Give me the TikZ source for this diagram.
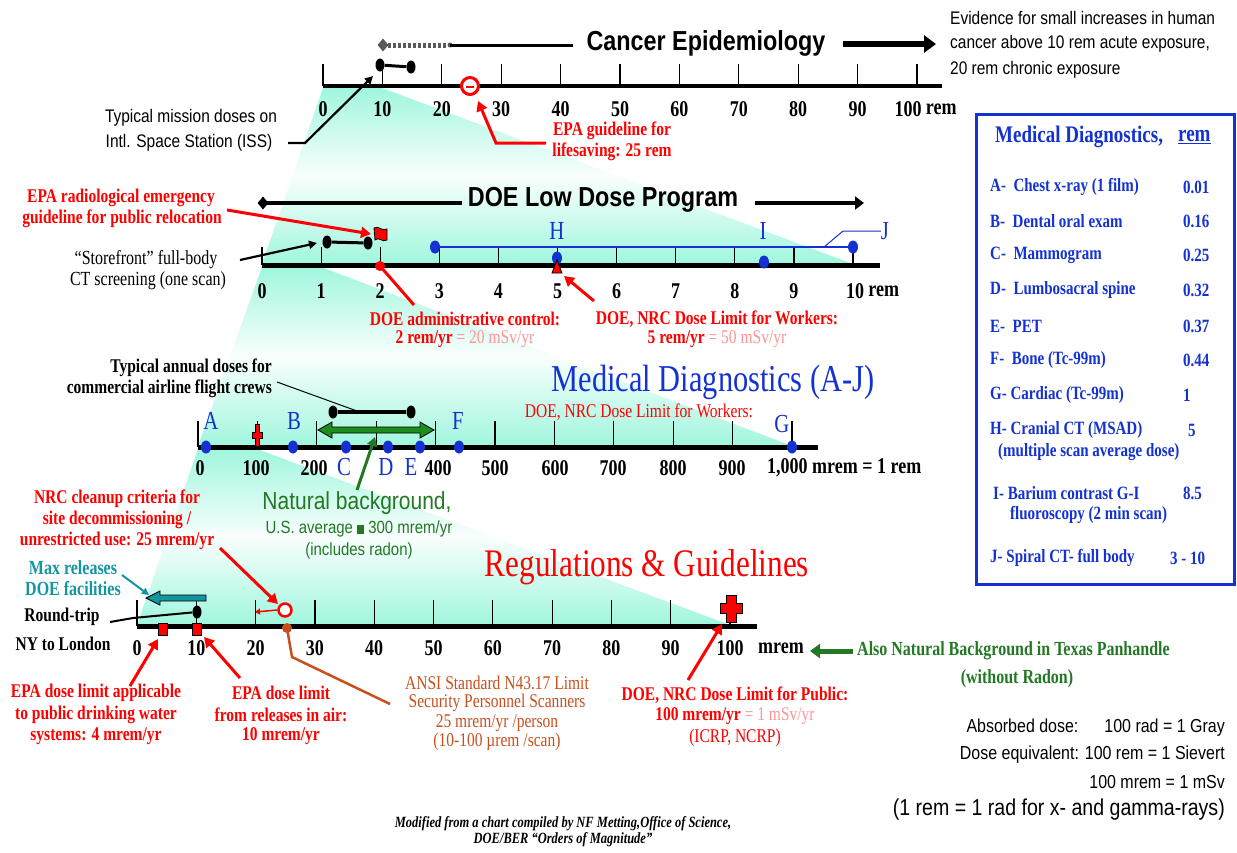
\documentclass[tikz,border=0pt]{standalone}
\usepackage{fontspec}
\setmainfont{Liberation Serif}[FakeStretch=0.8]
\setsansfont{Liberation Sans}[FakeStretch=0.85]
\usetikzlibrary{arrows.meta,shapes.geometric}
\definecolor{cy}{RGB}{160,246,222}
\definecolor{bl}{RGB}{20,50,210}
\definecolor{rd}{RGB}{255,0,0}
\definecolor{pk}{RGB}{255,150,150}
\definecolor{gn}{RGB}{35,120,35}
\definecolor{tl}{RGB}{20,150,160}
\definecolor{br}{RGB}{200,80,30}
\definecolor{gr}{RGB}{90,90,90}
\tikzset{
 axline/.style={line width=4.5pt},
 tk/.style={line width=1.2pt},
 axlab/.style={inner sep=0pt, font=\fontsize{22.5}{24}\selectfont\bfseries},
 sann/.style={inner sep=0pt, font=\fontsize{18.2}{20}\selectfont\sffamily},
 rann/.style={inner sep=0pt, text=rd, font=\fontsize{19.4}{21}\selectfont\bfseries},
 kann/.style={inner sep=0pt, font=\fontsize{19.4}{21}\selectfont\bfseries},
 sfann/.style={inner sep=0pt, font=\fontsize{20}{22}\selectfont},
 brann/.style={inner sep=0pt, text=br, font=\fontsize{19.4}{21}\selectfont},
 gnann/.style={inner sep=0pt, text=gn, font=\fontsize{20}{22}\selectfont\bfseries},
 tlann/.style={inner sep=0pt, text=tl, font=\fontsize{20}{22}\selectfont\bfseries},
 bigtitle/.style={inner sep=0pt, font=\fontsize{27.5}{30}\selectfont\sffamily\bfseries},
 serift/.style={inner sep=0pt, font=\fontsize{39}{42}\selectfont},
 bllet/.style={inner sep=0pt, text=bl, font=\fontsize{26}{28}\selectfont},
 boxrow/.style={inner sep=0pt, anchor=west, text=bl, font=\fontsize{18.75}{20}\selectfont\bfseries},
 bdot/.style={ellipse, fill=black, minimum width=9pt, minimum height=13pt, inner sep=0pt},
 bldot/.style={ellipse, fill=bl, minimum width=10pt, minimum height=13pt, inner sep=0pt},
 rsq/.style={rectangle, fill=rd, draw=black, line width=0.7pt, minimum width=9pt, minimum height=12pt, inner sep=0pt},
 redarr/.style={draw=rd, line width=3pt, -{Triangle[length=10pt,width=11pt]}},
 blkarr/.style={line width=2.2pt, -{Triangle[length=8pt,width=8pt]}},
 funnel/.style={top color=cy, bottom color=cy, middle color=cy!6},
}
\begin{document}
\begin{tikzpicture}[x=1pt,y=-1pt]
\useasboundingbox[fill=white] (0,0) rectangle (1237,852);

% ---------- funnels ----------
\shade[funnel] (323,88) -- (382,88) -- (853,264) -- (262,264) -- cycle;
\shade[funnel] (262,267) -- (321,267) -- (792,446) -- (198,446) -- cycle;
\shade[funnel] (198,449) -- (257,449) -- (730,625) -- (137,625) -- cycle;

% ---------- axis 1 (rem, 0-100) ----------
\draw[axline] (323,86) -- (942,86);
\foreach \i in {0,...,10} \draw[tk] ({323+59.4*\i},64) -- ({323+59.4*\i},86);
\foreach \i/\v in {0/0,1/10,2/20,3/30,4/40,5/50,6/60,7/70,8/80,9/90}
  \node[axlab] (ta\i) at ({323+59.4*\i},109) {\v};
\node[axlab] (ta10) at (908,109) {100};
\node[axlab, anchor=west] (taR) at ([xshift=4pt]ta10.east) {rem};

% Cancer epidemiology
\node[diamond, fill=gr, minimum width=11pt, minimum height=13pt, inner sep=0pt] (gd) at (383,45) {};
\draw[gr, line width=5pt, dash pattern=on 3pt off 2pt] (gd.center) -- (446,45);
\node[circle, fill=gr, minimum size=5pt, inner sep=0pt] (gdot) at (450,45) {};
\coordinate (ceL) at (573,45);
\draw[line width=3pt] (gdot.center) -- (ceL);
\node[bigtitle] (cancer) at (706,43) {Cancer Epidemiology};
\coordinate (ceA) at (843,44);
\coordinate (ceB) at (936,44);
\draw[line width=6pt, -{Triangle[length=12pt,width=17pt]}] (ceA) -- (ceB);
\node[sann, anchor=west] (ev1) at (950,18) {Evidence for small increases in human};
\node[sann, anchor=west] (ev2) at (950,44) {cancer above 10 rem acute exposure,};
\node[sann, anchor=west] (ev3) at (950,70) {20 rem chronic exposure};

% ISS
\node[bdot] (m1) at (380,65) {};
\node[bdot] (m2) at (411,67) {};
\draw[line width=3pt] (m1) -- (m2);
\node[sann] (iss1) at (191,118) {Typical mission doses on};
\node[sann] (iss2) at (189,143) {Intl. Space Station (ISS)};
\coordinate (issA) at (288,143);
\coordinate (issB) at (305,143);
\coordinate (issC) at (373,76);
\draw[blkarr] (issA) -- (issB) -- (issC);

% EPA lifesaving
\node[circle, draw=rd, line width=3pt, fill=white, minimum size=17pt, inner sep=0pt] (epac) at (470,86) {};
\draw[rd, line width=1.5pt] (466,87) -- (474,87);
\coordinate (elA) at (546,143);
\coordinate (elB) at (496,143);
\coordinate (elC) at (478,101);
\draw[redarr] (elA) -- (elB) -- (elC);
\node[rann] (epl1) at (612,131) {EPA guideline for};
\node[rann] (epl2) at (612,152) {lifesaving: 25 rem};

% ---------- axis 2 (rem, 0-10) ----------
\node[diamond, fill=black, minimum width=11pt, minimum height=13pt, inner sep=0pt] (ld) at (263,203) {};
\coordinate (ldL) at (462,203);
\draw[line width=4pt] (ld.center) -- (ldL);
\node[bigtitle] (ldp) at (603,200) {DOE Low Dose Program};
\coordinate (ldA) at (755,203);
\coordinate (ldB) at (864,203);
\draw[line width=4pt, -{Triangle[length=9pt,width=13pt]}] (ldA) -- (ldB);

\draw[axline, line width=5pt] (262,265) -- (880,265);
\foreach \i in {0,...,10} \draw[tk] ({262+59.1*\i},247) -- ({262+59.1*\i},265);
\foreach \i in {0,...,9} \node[axlab] (tb\i) at ({262+59.1*\i},291) {\i};
\node[axlab] (tb10) at (855,291) {10};
\node[axlab, anchor=west] (tbR) at ([xshift=4pt]tb10.east) {rem};

% J line
\node[bldot] (j1) at (435,247) {};
\node[bldot] (j2) at (853,247) {};
\draw[bl, line width=2pt] (j1) -- (j2);
\node[bllet] (jl) at (885,231) {J};
\coordinate (jA) at (824,247);
\coordinate (jB) at (843,231);
\draw[bl, line width=1pt] (jA) -- (jB) -- (jl.west);
\node[bllet] (hl) at (557,231) {H};
\node[bldot] (hd) at (557,258) {};
\filldraw[fill=rd, draw=black, line width=0.8pt] (552,273) -- (562,273) -- (557,260) -- cycle;
\node[bllet] (il) at (763,231) {I};
\node[bldot] (idot) at (764,262) {};

% storefront CT
\node[bdot] (sf1) at (327,242) {};
\node[bdot] (sf2) at (368,243) {};
\draw[line width=3pt] (sf1) -- (sf2);
\coordinate (sfA) at (240,260);
\coordinate (sfB) at (317,243);
\draw[blkarr] (sfA) -- (sfB);
\node[sfann] (sft1) at (146,260) {“Storefront” full-body};
\node[sfann] (sft2) at (148,281) {CT screening (one scan)};

% EPA relocation flag
\filldraw[fill=rd, draw=black, line width=0.8pt] (374,228) .. controls (379,225) and (382,232) .. (387,229) -- (387,240) .. controls (382,243) and (379,236) .. (375,240) -- cycle;
\coordinate (erA) at (227,210);
\coordinate (erB) at (371,234);
\draw[redarr] (erA) -- (erB);
\node[rann] (er1) at (121,198) {EPA radiological emergency};
\node[rann] (er2) at (122,219) {guideline for public relocation};

% DOE admin control
\node[circle, fill=rd, minimum size=10pt, inner sep=0pt] (adm) at (380,266) {};
\coordinate (admB) at (414,305);
\draw[rd, line width=3pt] (adm.center) -- (admB);
\node[rann] (adm1) at (465,319) {DOE administrative control:};
\node[rann] (adm2) at (465,339) {2 rem/yr {\color{pk}\mdseries = 20 mSv/yr}};

% workers
\coordinate (wkA) at (594,301);
\coordinate (wkB) at (564,276);
\draw[redarr] (wkA) -- (wkB);
\node[rann] (wk1) at (717,319) {DOE, NRC Dose Limit for Workers:};
\node[rann] (wk2) at (717,339) {5 rem/yr {\color{pk}\mdseries = 50 mSv/yr}};

% ---------- axis 3 (mrem, 0-1000) ----------
\draw[axline, line width=5pt] (198,447) -- (818,447);
\foreach \i in {0,...,10} \draw[tk] ({198+59.4*\i},421) -- ({198+59.4*\i},447);
\foreach \x/\v/\n in {200/0/a,256/100/b,314/200/c,438/400/d,495/500/e,555/600/f,613/700/g,673/800/h,732/900/i}
  \node[axlab] (tc\n) at (\x,468) {\v};
\node[axlab, anchor=west] (tcR) at (767,468) {1,000 mrem = 1 rem};

% natural background double arrow
\filldraw[fill=gn!85!green, draw=black, line width=0.8pt] (318,430) -- (332,422) -- (332,427) -- (420,427) -- (420,422) -- (434,430) -- (420,438) -- (420,433) -- (332,433) -- (332,438) -- cycle;
% airline crews
\node[bdot] (ac1) at (333,412) {};
\node[bdot] (ac2) at (411,412) {};
\draw[line width=4pt] (ac1) -- (ac2);
\coordinate (acA) at (277,382);
\coordinate (acB) at (357,411);
\draw[line width=1pt] (acA) -- (acB);
\node[kann, anchor=east] (act1) at (272,368) {Typical annual doses for};
\node[kann, anchor=east] (act2) at (272,389) {commercial airline flight crews};

% 100 mrem red marker
\filldraw[fill=rd, draw=black, line width=0.6pt] (255,424) -- (259,424) -- (259,432) -- (262,432) -- (262,438) -- (259,438) -- (259,446) -- (255,446) -- (255,438) -- (252,438) -- (252,432) -- (255,432) -- cycle;

% blue dots and letters
\foreach \x/\n in {206/A,293/B,346/C,388/D,420/E,459/F,792/G}
  \node[bldot] (d\n) at (\x,447) {};
\node[bllet] (lA) at (211,421) {A};
\node[bllet] (lB) at (294,421) {B};
\node[bllet] (lF) at (458,421) {F};
\node[bllet] (lG) at (782,424) {G};
\node[bllet] (lC) at (344,467) {C};
\node[bllet] (lD) at (386,467) {D};
\node[bllet] (lE) at (411,467) {E};

\node[inner sep=0pt, text=bl, font=\fontsize{38}{40}\selectfont] (mdt) at (713,382) {Medical Diagnostics (A-J)};
\node[inner sep=0pt, text=rd, font=\fontsize{19.4}{21}\selectfont] (mdw) at (639,412) {DOE, NRC Dose Limit for Workers:};

% natural background text
\node[inner sep=0pt, text=gn, font=\fontsize{24.7}{27}\selectfont\sffamily] (nb1) at (357,503) {Natural background,};
\node[inner sep=0pt, text=gn, font=\fontsize{17.6}{20}\selectfont\sffamily] (nb2) at (359,529) {U.S. average \rule{0.4em}{0.5em} 300 mrem/yr};
\node[inner sep=0pt, text=gn, font=\fontsize{17.6}{20}\selectfont\sffamily] (nb3) at (359,551) {(includes radon)};
\coordinate (nbA) at (357,490);
\coordinate (nbB) at (375,437);
\draw[gn, line width=3pt, -{Triangle[length=9pt,width=10pt]}] (nbA) -- (nbB);

% ---------- axis 4 (mrem, 0-100) ----------
\draw[axline, line width=5pt] (137,626) -- (757,626);
\foreach \i in {0,...,10} \draw[tk] ({137+59.3*\i},600) -- ({137+59.3*\i},626);
\foreach \i/\v in {0/0,1/10,2/20,3/30,4/40,5/50,6/60,7/70,8/80,9/90,10/100}
  \node[axlab] (td\i) at ({137+59.3*\i},648) {\v};
\node[axlab] (tdR) at (781,648) {mrem};

\node[serift, text=rd] (rg) at (647,567) {Regulations \& Guidelines};

% max releases
\node[tlann] (mr1) at (73,568) {Max releases};
\node[tlann] (mr2) at (73,589) {DOE facilities};
\coordinate (mrA) at (122,575);
\coordinate (mrB) at (149,595);
\draw[tl, line width=2pt, -{Triangle[length=7pt,width=7pt]}] (mrA) -- (mrB);
\filldraw[fill=tl, draw=black, line width=0.9pt] (146,598) -- (160,591) -- (160,595) -- (206,595) -- (206,601) -- (160,601) -- (160,605) -- cycle;

% round trip
\node[bdot] (rt) at (197,612) {};
\coordinate (rtA) at (110,622);
\coordinate (rtB) at (133,618);
\draw[line width=2pt] (rtA) -- (rtB) -- (rt);
\node[kann] (rt1) at (62,617) {Round-trip};
\node[kann] (rt2) at (63,644) {NY to London};

% EPA squares
\node[rsq] (s4) at (163,629) {};
\node[rsq] (s10) at (197,629) {};
\coordinate (dwA) at (130,686);
\coordinate (dwB) at (158,639);
\draw[redarr] (dwA) -- (dwB);
\coordinate (raA) at (240,678);
\coordinate (raB) at (204,637);
\draw[redarr] (raA) -- (raB);
\node[rann] (dw1) at (96,693) {EPA dose limit applicable};
\node[rann] (dw2) at (96,715) {to public drinking water};
\node[rann] (dw3) at (96,736) {systems: 4 mrem/yr};
\node[rann] (ra1) at (281,693) {EPA dose limit};
\node[rann] (ra2) at (281,715) {from releases in air:};
\node[rann] (ra3) at (281,736) {10 mrem/yr};

% NRC cleanup
\node[circle, draw=rd, line width=2.5pt, fill=white, minimum size=13pt, inner sep=0pt] (nrc) at (285,610) {};
\coordinate (nrcL) at (255,612);
\draw[rd, line width=1.5pt, -{Triangle[length=5pt,width=6pt]}] (nrc.west) -- (nrcL);
\coordinate (ncA) at (220,548);
\coordinate (ncB) at (278,604);
\draw[redarr] (ncA) -- (ncB);
\node[rann] (nc1) at (117,499) {NRC cleanup criteria for};
\node[rann] (nc2) at (117,520) {site decommissioning /};
\node[rann] (nc3) at (117,541) {unrestricted use: 25 mrem/yr};

% ANSI
\node[circle, fill=br, minimum size=10pt, inner sep=0pt] (ansi) at (287,628) {};
\coordinate (anA) at (292,657);
\coordinate (anB) at (390,704);
\draw[br, line width=2.5pt] (ansi.center) -- (anA) -- (anB);
\node[brann] (an1) at (497,683) {ANSI Standard N43.17 Limit};
\node[brann] (an2) at (497,703) {Security Personnel Scanners};
\node[brann] (an3) at (497,723) {25 mrem/yr /person};
\node[brann] (an4) at (497,742) {(10-100 µrem /scan)};

% public limit cross
\filldraw[fill=rd, draw=black, line width=0.9pt] (726,595) -- (736,595) -- (736,603) -- (742,603) -- (742,613) -- (736,613) -- (736,622) -- (726,622) -- (726,613) -- (720,613) -- (720,603) -- (726,603) -- cycle;
\coordinate (puA) at (688,680);
\coordinate (puB) at (722,624);
\draw[redarr] (puA) -- (puB);
\node[rann] (pu1) at (735,695) {DOE, NRC Dose Limit for Public:};
\node[rann] (pu2) at (735,716) {100 mrem/yr {\color{pk}\mdseries = 1 mSv/yr}};
\node[inner sep=0pt, text=rd, font=\fontsize{19.4}{21}\selectfont] (pu3) at (735,738) {(ICRP, NCRP)};

% Texas
\coordinate (txA) at (853,651);
\coordinate (txB) at (810,651);
\draw[gn, line width=5pt, -{Triangle[length=10pt,width=14pt]}] (txA) -- (txB);
\node[gnann, anchor=west] (tx1) at (857,651) {Also Natural Background in Texas Panhandle};
\node[gnann] (tx2) at (1017,679) {(without Radon)};

% conversions
\node[sann, anchor=east, font=\fontsize{18.8}{20}\selectfont\sffamily] (cv1) at (1225,728) {Absorbed dose:\hspace{26pt}100 rad = 1 Gray};
\node[sann, anchor=east, font=\fontsize{18.8}{20}\selectfont\sffamily] (cv2) at (1225,755) {Dose equivalent: 100 rem = 1 Sievert};
\node[sann, anchor=east, font=\fontsize{18.8}{20}\selectfont\sffamily] (cv3) at (1225,782) {100 mrem = 1 mSv};
\node[sann, anchor=east, font=\fontsize{23}{25}\selectfont\sffamily] (cv4) at (1225,810) {(1 rem = 1 rad for x- and gamma-rays)};

% ---------- Medical diagnostics box ----------
\node[draw=bl, line width=2.5pt, minimum width=258pt, minimum height=470pt, inner sep=0pt, anchor=north west] (mbox) at (975,113) {};
\node[boxrow, font=\fontsize{23.75}{25}\selectfont\bfseries] (mb0) at (995,137) {Medical Diagnostics,};
\node[boxrow, font=\fontsize{23.75}{25}\selectfont\bfseries] (mb0r) at (1178,137) {\underline{rem}};
\node[boxrow] (rA) at (990,187) {A-\ \ Chest x-ray (1 film)};
\node[boxrow] (vA) at (1183,187) {0.01};
\node[boxrow] (rB) at (990,221) {B-\ \ Dental oral exam};
\node[boxrow] (vB) at (1183,221) {0.16};
\node[boxrow] (rC) at (990,255) {C-\ \ Mammogram};
\node[boxrow] (vC) at (1183,255) {0.25};
\node[boxrow] (rD) at (990,290) {D-\ \ Lumbosacral spine};
\node[boxrow] (vD) at (1183,290) {0.32};
\node[boxrow] (rE) at (990,326) {E-\ \ PET};
\node[boxrow] (vE) at (1183,326) {0.37};
\node[boxrow] (rF) at (990,360) {F-\ \ Bone (Tc-99m)};
\node[boxrow] (vF) at (1183,360) {0.44};
\node[boxrow] (rG) at (990,395) {G- Cardiac (Tc-99m)};
\node[boxrow] (vG) at (1183,395) {1};
\node[boxrow] (rH) at (990,430) {H- Cranial CT (MSAD)};
\node[boxrow] (vH) at (1188,430) {5};
\node[boxrow] (rH2) at (998,452) {(multiple scan average dose)};
\node[boxrow] (rI) at (993,493) {I- Barium contrast G-I};
\node[boxrow] (vI) at (1183,493) {8.5};
\node[boxrow] (rI2) at (1010,515) {fluoroscopy (2 min scan)};
\node[boxrow] (rJ) at (990,558) {J- Spiral CT- full body};
\node[boxrow] (vJ) at (1170,558) {3 - 10};

% footer
\node[inner sep=0pt, font=\fontsize{15.6}{17}\selectfont\itshape\bfseries] (ft1) at (563,824) {Modified from a chart compiled by NF Metting,Office of Science,};
\node[inner sep=0pt, font=\fontsize{15.6}{17}\selectfont\itshape\bfseries] (ft2) at (563,840) {DOE/BER “Orders of Magnitude”};
\end{tikzpicture}
\end{document}
